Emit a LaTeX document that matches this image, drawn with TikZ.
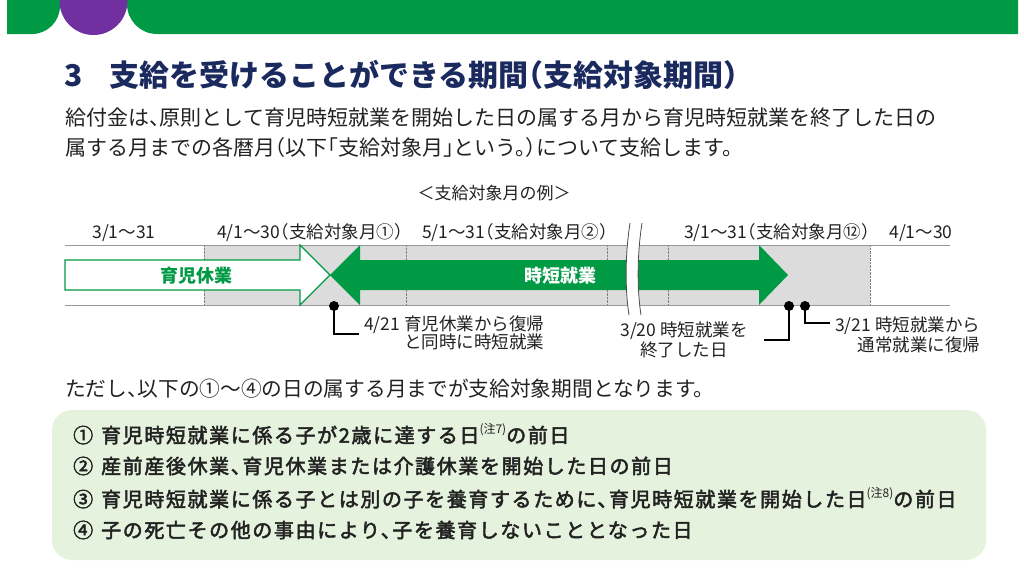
\documentclass[tikz,border=0pt]{standalone}
\usepackage{fontspec}
\usepackage{tikz}
\newfontfamily\jp{Noto Sans CJK JP}
\newfontfamily\jph[RawFeature=+halt]{Noto Sans CJK JP}
\newfontfamily\jpm[RawFeature=+halt,FakeBold=2.5,LetterSpace=8]{Noto Sans CJK JP}
\definecolor{grn}{HTML}{009944}
\definecolor{purp}{HTML}{7030A0}
\definecolor{navy}{HTML}{1B2A5E}
\definecolor{ink}{HTML}{222222}
\definecolor{band}{HTML}{DCDCDC}
\definecolor{pale}{HTML}{E5F2DD}
\newcommand\chu[1]{\raisebox{.45em}{\jp\fontsize{12}{12}\selectfont(注#1)}}

\begin{document}
\begin{tikzpicture}[x=1pt,y=-1pt,
	txt/.style={anchor=west,inner sep=0,text=ink,font=\jph\fontsize{21}{21}\selectfont},
	lbl/.style={inner sep=0,text=ink,font=\jph\fontsize{17.5}{18}\selectfont},
	item/.style={anchor=west,inner sep=0,text=ink,font=\jpm\fontsize{20}{20}\selectfont},
	lead/.style={line width=1.3,shorten >=5}]
				\useasboundingbox (0,0) rectangle (1024,573);
				% banner
				\fill[grn] (7,0) -- (60,0) -- (60,6) arc[start angle=0,end angle=90,radius=28] -- (7,34) -- cycle;
				\fill[grn] (127,0) -- (1018,0) -- (1018,34) -- (157,34) arc[start angle=90,end angle=180,radius=30] -- cycle;
				\fill[purp] (93.5,1) circle (34);

				\node[anchor=west,inner sep=0,text=navy,font=\jph\bfseries\fontsize{30}{30}\selectfont] (title) at (64,75)
					{3\hspace{.9em}支給を受けることができる期間（支給対象期間）};
				\node[txt] (intro1) at (65,118) {給付金は、原則として育児時短就業を開始した日の属する月から育児時短就業を終了した日の};
				\node[txt] (intro2) at (65,148) {属する月までの各暦月（以下「支給対象月」という。）について支給します。};

				% timeline
				\node[lbl,font=\jp\fontsize{17}{18}\selectfont] (ex) at (494,193) {＜支給対象月の例＞};
				\fill[band] (204,245) rectangle (870,305);
				\foreach \x in {204,406,607,668,870}{
					\draw[densely dotted,gray] (\x,245) -- (\x,305);
				}
				\draw[gray!80] (65,245) -- (950,245) (65,305) -- (950,305);
				\draw[grn,fill=white,line width=1.3] (65,260) -- (300,260) -- (300,245) -- (330,275)
					-- (300,305) -- (300,290) -- (65,290) -- cycle;
				\fill[grn] (330,275) -- (360,245) -- (360,260) -- (759,260) -- (759,245) -- (788,275)
					-- (759,305) -- (759,290) -- (360,290) -- (360,305) -- cycle;
				\fill[white] (630,223) .. controls (625,255) and (625,290) .. (629,315)
					-- (641,315) .. controls (637,290) and (637,255) .. (642,223) -- cycle;
				\draw[black!70,line width=.8] (630,223) .. controls (625,255) and (625,290) .. (629,315);
				\draw[black!70,line width=.8] (642,223) .. controls (637,255) and (637,290) .. (641,315);
				\node[lbl,text=grn,font=\jp\bfseries\fontsize{18}{18}\selectfont] (ikuji) at (196,276) {育児休業};
				\node[lbl,text=white,font=\jp\bfseries\fontsize{18}{18}\selectfont] (jitan) at (560,276) {時短就業};

				\node[lbl] (m1) at (124,233) {3/1～31};
				\node[lbl] (m2) at (310,233) {4/1～30（支給対象月①）};
				\node[lbl] (m3) at (515,233) {5/1～31（支給対象月②）};
				\node[lbl] (m4) at (777,233) {3/1～31（支給対象月⑫）};
				\node[lbl] (m5) at (921,233) {4/1～30};

				\coordinate (d1) at (334,306);
				\coordinate (d2) at (789,306);
				\coordinate (d3) at (805,306);
				\foreach \d in {d1,d2,d3}{
					\fill (\d) circle (5);
				}
				\node[lbl,anchor=west,align=left,font=\jph\fontsize{17.5}{18}\selectfont] (c1) at (364,334)
					{4/21 育児休業から復帰\\\phantom{4/21 }と同時に時短就業};
				\node[lbl,align=center,font=\jph\fontsize{17.5}{20}\selectfont] (c2) at (684,340)
					{3/20 時短就業を\\終了した日};
				\node[lbl,anchor=west,align=right,font=\jph\fontsize{17.5}{20}\selectfont] (c3) at (835,335)
					{3/21 時短就業から\\通常就業に復帰};
				\draw[lead] (d1) |- (c1.west);
				\draw[lead,shorten >=16] (d2) |- (c2.east);
				\draw[lead] (d3) |- ([yshift=12pt]c3.west);

				% conditions
				\node[txt,font=\jph\fontsize{20.7}{21}\selectfont] (note) at (65,389) {ただし、以下の①～④の日の属する月までが支給対象期間となります。};
				\fill[pale,rounded corners=20] (52,410) rectangle (986,560);
				\foreach \t [count=\i] in {{①\hspace{.4em}育児時短就業に係る子が2歳に達する日\chu{7}の前日},
					{②\hspace{.4em}産前産後休業、育児休業または介護休業を開始した日の前日},
					{③\hspace{.4em}育児時短就業に係る子とは別の子を養育するために、育児時短就業を開始した日\chu{8}の前日},
					{④\hspace{.4em}子の死亡その他の事由により、子を養育しないこととなった日}}{
					\node[item] (it\i) at (73,402+\i*32) {\t};
				}
			\end{tikzpicture}
\end{document}
